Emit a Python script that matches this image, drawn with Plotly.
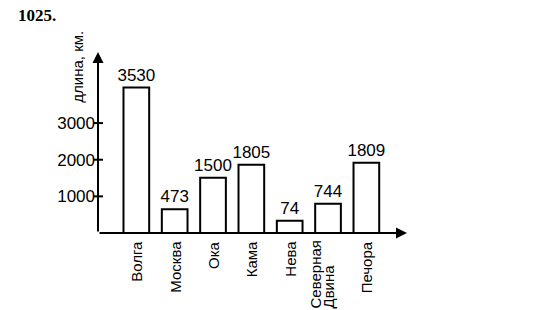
import plotly.graph_objects as go

# Data
rivers = ["Волга", "Москва", "Ока", "Кама", "Нева", "Северная<br>Двина", "Печора"]
lengths_km = [3530, 473, 1500, 1805, 74, 744, 1809]          # values printed above the bars
drawn_heights = [3970, 650, 1510, 1860, 335, 800, 1920]       # bar heights as drawn on the scale
positions = [1, 2, 3, 4, 5, 6, 7]
y_ticks = [1000, 2000, 3000]

X_MAX = 8.06
Y_MAX = 4940
PLOT_W = 550 - 98.3 - 143
PLOT_H = 310 - 52 - 76.7
LINE_GAP = 13

fig = go.Figure()
fig.add_trace(go.Bar(
    x=positions, y=drawn_heights, width=0.67,
    marker=dict(color="white", line=dict(color="black", width=2)),
    text=[str(v) for v in lengths_km], textposition="outside",
    textfont=dict(family="Liberation Sans", size=17, color="black"),
    constraintext="none", cliponaxis=False, showlegend=False,
))

annotations = []
# axis arrows
annotations.append(dict(x=X_MAX, y=0, ax=0, ay=0, xref="x", yref="y", axref="x", ayref="y",
                        text="", showarrow=True, arrowhead=2, arrowsize=1.1, arrowwidth=2,
                        arrowcolor="black"))
annotations.append(dict(x=0, y=Y_MAX, ax=0, ay=0, xref="x", yref="y", axref="x", ayref="y",
                        text="", showarrow=True, arrowhead=2, arrowsize=1.1, arrowwidth=2,
                        arrowcolor="black"))
# category labels (multi-line labels are split; shorter lines padded so lines start together)
for p, name in zip(positions, rivers):
    lines = name.split("<br>")
    n = len(lines)
    longest = max(len(s) for s in lines)
    for i, line in enumerate(lines):
        pad = "\u00a0" * (2 * (longest - len(line)))
        xs = 0 if n == 1 else (i - (n - 1) / 2) * LINE_GAP - 7
        annotations.append(dict(x=p, y=0, xref="x", yref="y", text=line + pad, textangle=-90,
                                showarrow=False, xanchor="center", yanchor="top",
                                xshift=xs, yshift=-6,
                                font=dict(family="Liberation Sans", size=15, color="black")))
# axis title
annotations.append(dict(x=(77.5 - 98.3) / PLOT_W, y=(233.3 - 66.5) / PLOT_H,
                        xref="paper", yref="paper", text="длина, км.",
                        textangle=-90, showarrow=False, xanchor="center", yanchor="middle",
                        font=dict(family="Liberation Sans", size=15, color="black")))
# exercise number
annotations.append(dict(x=(16 - 98.3) / PLOT_W, y=(233.3 - 15) / PLOT_H,
                        xref="paper", yref="paper", text="<b>1025.</b>",
                        showarrow=False, xanchor="left", yanchor="middle",
                        font=dict(family="Liberation Serif", size=17, color="black")))

# tick marks crossing the vertical axis
shapes = []
for t in y_ticks:
    shapes.append(dict(type="line", xref="paper", yref="y", x0=-5 / PLOT_W, x1=5 / PLOT_W,
                       y0=t, y1=t, line=dict(color="black", width=2)))

fig.update_layout(
    width=550, height=310,
    margin=dict(l=98.3, r=143, t=52, b=76.7, pad=0),
    paper_bgcolor="white", plot_bgcolor="white",
    xaxis=dict(range=[0, X_MAX], showgrid=False, zeroline=False, showline=False,
               showticklabels=False, ticks=""),
    yaxis=dict(range=[0, Y_MAX], showgrid=False, zeroline=False, showline=False,
               tickvals=y_ticks, ticktext=[str(t) for t in y_ticks],
               ticks="", ticklabelstandoff=2,
               tickfont=dict(family="Liberation Sans", size=17, color="black")),
    annotations=annotations, shapes=shapes,
)

fig.write_html("out.html")
